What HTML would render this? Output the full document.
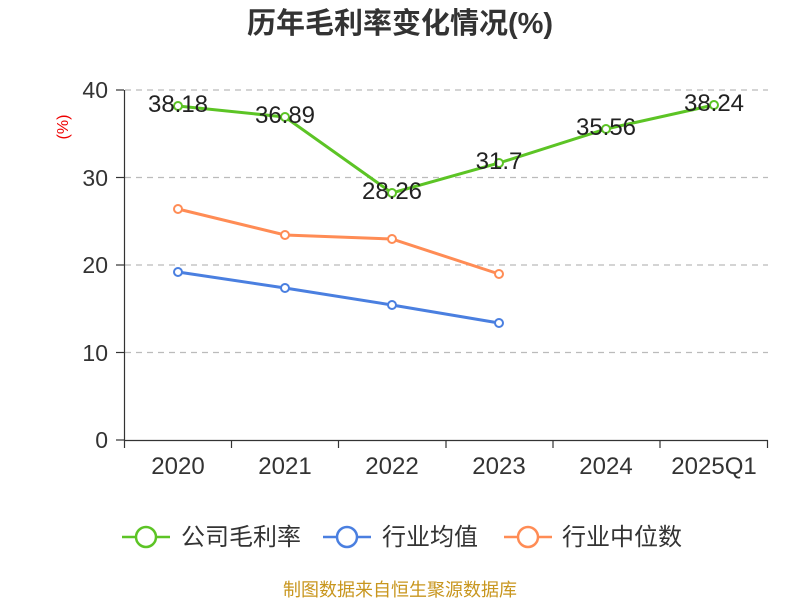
<!DOCTYPE html>
<html><head><meta charset="utf-8"><style>body{margin:0;background:#fff}svg{display:block}</style></head><body>
<svg width="800" height="600" xmlns="http://www.w3.org/2000/svg" font-family="Liberation Sans, Noto Sans CJK SC, sans-serif">
<text x="400" y="33" text-anchor="middle" font-size="29" font-weight="bold" fill="#333">历年毛利率变化情况(%)</text>
<text x="68" y="127" text-anchor="middle" font-size="16" fill="#e00" transform="rotate(-90 68 127)">(%)</text>
<g stroke="#bbb" stroke-dasharray="6,5" stroke-width="1.2">
<line x1="125" y1="90" x2="768" y2="90"/><line x1="125" y1="177.5" x2="768" y2="177.5"/><line x1="125" y1="265" x2="768" y2="265"/><line x1="125" y1="352.5" x2="768" y2="352.5"/>
</g>
<g stroke="#333" stroke-width="1.2">
<line x1="124.5" y1="90" x2="124.5" y2="440"/><line x1="124" y1="440.5" x2="768" y2="440.5"/>
<line x1="116" y1="90" x2="124" y2="90"/><line x1="116" y1="177.5" x2="124" y2="177.5"/><line x1="116" y1="265" x2="124" y2="265"/><line x1="116" y1="352.5" x2="124" y2="352.5"/><line x1="116" y1="440" x2="124" y2="440"/>
<line x1="124.5" y1="440" x2="124.5" y2="448"/><line x1="231.5" y1="440" x2="231.5" y2="448"/><line x1="338.5" y1="440" x2="338.5" y2="448"/><line x1="446" y1="440" x2="446" y2="448"/><line x1="553" y1="440" x2="553" y2="448"/><line x1="660" y1="440" x2="660" y2="448"/><line x1="767.5" y1="440" x2="767.5" y2="448"/>
</g>
<g font-size="23" fill="#333" text-anchor="end">
<text x="108" y="98">40</text><text x="108" y="186">30</text><text x="108" y="273">20</text><text x="108" y="361">10</text><text x="108" y="448">0</text>
</g>
<g font-size="24" fill="#333" text-anchor="middle">
<text x="178" y="474">2020</text><text x="285" y="474">2021</text><text x="392" y="474">2022</text><text x="499" y="474">2023</text><text x="606" y="474">2024</text><text x="714" y="474">2025Q1</text>
</g>
<polyline fill="none" stroke="#ff8c55" stroke-width="3" points="178,209 285,235 392,239 499,274"/>
<polyline fill="none" stroke="#4a7fe0" stroke-width="3" points="178,272 285,288 392,305 499,323"/>
<polyline fill="none" stroke="#5cc425" stroke-width="3" points="178,106 285,117 392,193 499,163 606,129 714,105"/>
<g fill="#fff" stroke-width="2">
<g stroke="#ff8c55"><circle cx="178" cy="209" r="4"/><circle cx="285" cy="235" r="4"/><circle cx="392" cy="239" r="4"/><circle cx="499" cy="274" r="4"/></g>
<g stroke="#4a7fe0"><circle cx="178" cy="272" r="4"/><circle cx="285" cy="288" r="4"/><circle cx="392" cy="305" r="4"/><circle cx="499" cy="323" r="4"/></g>
<g stroke="#5cc425"><circle cx="178" cy="106" r="4"/><circle cx="285" cy="117" r="4"/><circle cx="392" cy="193" r="4"/><circle cx="499" cy="163" r="4"/><circle cx="606" cy="129" r="4"/><circle cx="714" cy="105" r="4"/></g>
</g>
<g font-size="24" fill="#222" text-anchor="middle">
<text x="178" y="112">38.18</text><text x="285" y="123">36.89</text><text x="392" y="199">28.26</text><text x="499" y="169">31.7</text><text x="606" y="135">35.56</text><text x="714" y="111">38.24</text>
</g>
<g stroke-width="2.5" fill="#fff">
<line x1="122" y1="537" x2="170" y2="537" stroke="#5cc425"/><circle cx="146" cy="537" r="10" stroke="#5cc425"/>
<line x1="323" y1="537" x2="371" y2="537" stroke="#4a7fe0"/><circle cx="347" cy="537" r="10" stroke="#4a7fe0"/>
<line x1="504" y1="537" x2="552" y2="537" stroke="#ff8c55"/><circle cx="528" cy="537" r="10" stroke="#ff8c55"/>
</g>
<g font-size="24" fill="#333">
<text x="181" y="545">公司毛利率</text><text x="382" y="545">行业均值</text><text x="562" y="545">行业中位数</text>
</g>
<text x="400" y="596" text-anchor="middle" font-size="18" fill="#c8961e">制图数据来自恒生聚源数据库</text>
</svg>
</body></html>
